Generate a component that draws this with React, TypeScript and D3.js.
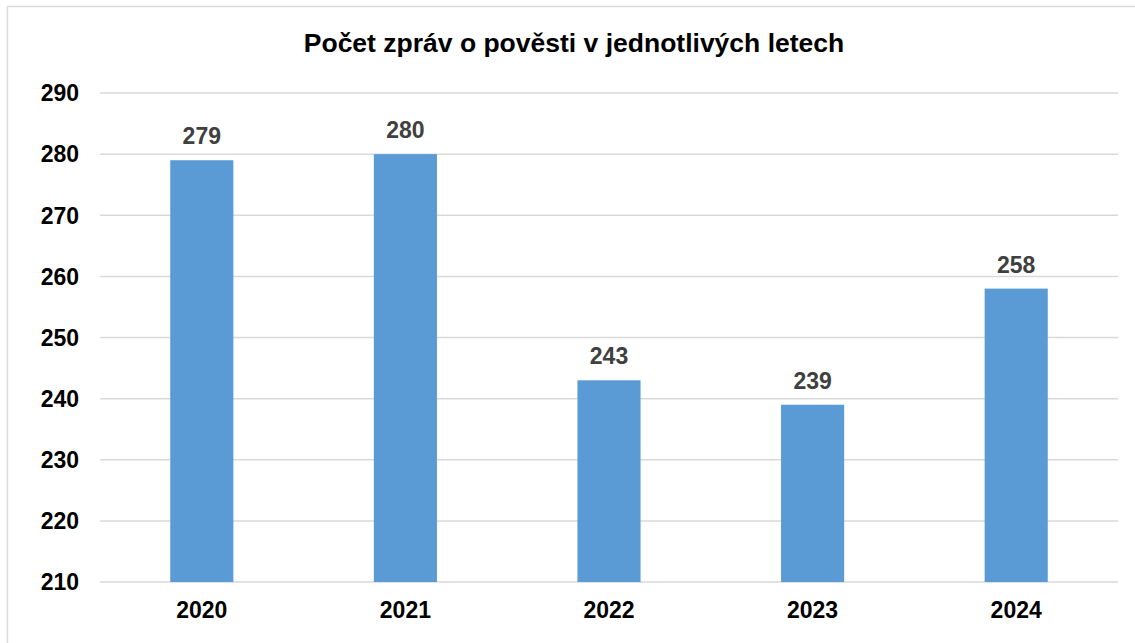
import * as d3 from 'd3'
import * as React from 'react'

const years: string[] = ['2020', '2021', '2022', '2023', '2024']
const counts: number[] = [279, 280, 243, 239, 258]
const yTicks: number[] = [210, 220, 230, 240, 250, 260, 270, 280, 290]
const title = 'Počet zpráv o pověsti v jednotlivých letech'

const W = 1135
const H = 643
const font = '"Liberation Sans", Arial, sans-serif'

export default function App() {
  // plot area
  const left = 100
  const right = 1118
  const top = 93
  const bottom = 582

  const x = d3.scaleBand<string>()
    .domain(years)
    .range([left, right])
    .paddingInner(0.69)
    .paddingOuter(0.345)

  const y = d3.scaleLinear()
    .domain([210, 290])
    .range([bottom, top])

  return (
    <svg width={W} height={H} style={{ position: 'absolute', left: 0, top: 0, background: '#fff' }}>
      <rect x={7.5} y={6.5} width={W} height={H} fill="#fff" stroke="#d9d9d9" strokeWidth={1.5} />
      <text x={574} y={52} textAnchor="middle" fontFamily={font}
        fontWeight="bold" fontSize={26.5} fill="#000">{title}</text>

      {/* gridlines */}
      <g>
        {yTicks.map(t => (
          <line key={t} x1={left} x2={right} y1={y(t)} y2={y(t)} stroke="#d9d9d9" strokeWidth={1.5} />
        ))}
      </g>

      {/* y labels */}
      <g>
        {yTicks.map(t => (
          <text key={t} x={79} y={y(t)} dy="0.36em" textAnchor="end" fontFamily={font}
            fontWeight="bold" fontSize={23} fill="#000">{t}</text>
        ))}
      </g>

      {/* bars */}
      <g>
        {years.map((yr, i) => (
          <rect key={yr} x={x(yr)} y={y(counts[i])} width={x.bandwidth()}
            height={bottom - y(counts[i])} fill="#5b9bd5" />
        ))}
      </g>

      {/* value labels */}
      <g>
        {years.map((yr, i) => (
          <text key={yr} x={x(yr)! + x.bandwidth() / 2} y={y(counts[i]) - 16} textAnchor="middle"
            fontFamily={font} fontWeight="bold" fontSize={23} fill="#404040">{counts[i]}</text>
        ))}
      </g>

      {/* x labels */}
      <g>
        {years.map(yr => (
          <text key={yr} x={x(yr)! + x.bandwidth() / 2} y={618} textAnchor="middle"
            fontFamily={font} fontWeight="bold" fontSize={23} fill="#000">{yr}</text>
        ))}
      </g>
    </svg>
  )
}
